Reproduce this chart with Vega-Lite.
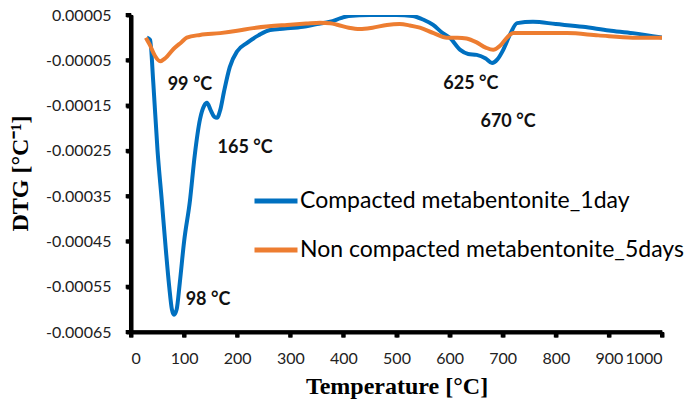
{
  "$schema": "https://vega.github.io/schema/vega-lite/v6.json",
  "width": 531,
  "height": 317,
  "autosize": {"type": "none"},
  "padding": {"left": 131, "top": 15, "right": 24, "bottom": 75},
  "background": "white",
  "config": {
    "view": {"stroke": null},
    "axis": {
      "domain": true, "domainColor": "black", "domainWidth": 4, "domainOpacity": 1,
      "ticks": true, "tickColor": "black", "tickWidth": 4, "tickSize": 5, "tickOpacity": 1,
      "grid": false
    }
  },
  "datasets": {
    "curves": [
      {"T": 30, "V": 0.0, "s": "Compacted metabentonite_1day"},
      {"T": 36, "V": -0.000005, "s": "Compacted metabentonite_1day"},
      {"T": 42, "V": -0.0001, "s": "Compacted metabentonite_1day"},
      {"T": 50, "V": -0.00025, "s": "Compacted metabentonite_1day"},
      {"T": 58, "V": -0.00036, "s": "Compacted metabentonite_1day"},
      {"T": 65, "V": -0.00046, "s": "Compacted metabentonite_1day"},
      {"T": 72, "V": -0.00055, "s": "Compacted metabentonite_1day"},
      {"T": 77, "V": -0.0006, "s": "Compacted metabentonite_1day"},
      {"T": 81, "V": -0.000612, "s": "Compacted metabentonite_1day"},
      {"T": 86, "V": -0.0006, "s": "Compacted metabentonite_1day"},
      {"T": 92, "V": -0.00054, "s": "Compacted metabentonite_1day"},
      {"T": 100, "V": -0.00045, "s": "Compacted metabentonite_1day"},
      {"T": 111, "V": -0.00036, "s": "Compacted metabentonite_1day"},
      {"T": 120, "V": -0.00026, "s": "Compacted metabentonite_1day"},
      {"T": 130, "V": -0.00018, "s": "Compacted metabentonite_1day"},
      {"T": 138, "V": -0.00015, "s": "Compacted metabentonite_1day"},
      {"T": 143, "V": -0.000144, "s": "Compacted metabentonite_1day"},
      {"T": 150, "V": -0.00016, "s": "Compacted metabentonite_1day"},
      {"T": 157, "V": -0.000175, "s": "Compacted metabentonite_1day"},
      {"T": 162, "V": -0.000177, "s": "Compacted metabentonite_1day"},
      {"T": 168, "V": -0.00016, "s": "Compacted metabentonite_1day"},
      {"T": 175, "V": -0.00012, "s": "Compacted metabentonite_1day"},
      {"T": 186, "V": -0.000065, "s": "Compacted metabentonite_1day"},
      {"T": 200, "V": -0.00003, "s": "Compacted metabentonite_1day"},
      {"T": 218, "V": -0.000012, "s": "Compacted metabentonite_1day"},
      {"T": 240, "V": 0.000005, "s": "Compacted metabentonite_1day"},
      {"T": 262, "V": 0.000017, "s": "Compacted metabentonite_1day"},
      {"T": 290, "V": 0.00002, "s": "Compacted metabentonite_1day"},
      {"T": 324, "V": 0.000024, "s": "Compacted metabentonite_1day"},
      {"T": 350, "V": 0.00003, "s": "Compacted metabentonite_1day"},
      {"T": 375, "V": 0.000035, "s": "Compacted metabentonite_1day"},
      {"T": 395, "V": 0.000043, "s": "Compacted metabentonite_1day"},
      {"T": 410, "V": 0.000048, "s": "Compacted metabentonite_1day"},
      {"T": 450, "V": 0.00005, "s": "Compacted metabentonite_1day"},
      {"T": 500, "V": 0.00005, "s": "Compacted metabentonite_1day"},
      {"T": 530, "V": 0.000048, "s": "Compacted metabentonite_1day"},
      {"T": 550, "V": 0.00004, "s": "Compacted metabentonite_1day"},
      {"T": 569, "V": 0.000028, "s": "Compacted metabentonite_1day"},
      {"T": 585, "V": 0.000012, "s": "Compacted metabentonite_1day"},
      {"T": 601, "V": -0.000001, "s": "Compacted metabentonite_1day"},
      {"T": 620, "V": -0.000027, "s": "Compacted metabentonite_1day"},
      {"T": 635, "V": -0.000036, "s": "Compacted metabentonite_1day"},
      {"T": 651, "V": -0.000038, "s": "Compacted metabentonite_1day"},
      {"T": 668, "V": -0.000046, "s": "Compacted metabentonite_1day"},
      {"T": 680, "V": -0.000056, "s": "Compacted metabentonite_1day"},
      {"T": 690, "V": -0.000048, "s": "Compacted metabentonite_1day"},
      {"T": 701, "V": -0.000027, "s": "Compacted metabentonite_1day"},
      {"T": 715, "V": 0.00001, "s": "Compacted metabentonite_1day"},
      {"T": 727, "V": 0.000032, "s": "Compacted metabentonite_1day"},
      {"T": 757, "V": 0.000035, "s": "Compacted metabentonite_1day"},
      {"T": 800, "V": 0.00003, "s": "Compacted metabentonite_1day"},
      {"T": 851, "V": 0.000024, "s": "Compacted metabentonite_1day"},
      {"T": 900, "V": 0.000016, "s": "Compacted metabentonite_1day"},
      {"T": 945, "V": 0.00001, "s": "Compacted metabentonite_1day"},
      {"T": 1000, "V": 0.0, "s": "Compacted metabentonite_1day"},
      {"T": 28, "V": 0.0, "s": "Non compacted metabentonite_5days"},
      {"T": 35, "V": -0.000015, "s": "Non compacted metabentonite_5days"},
      {"T": 45, "V": -0.00004, "s": "Non compacted metabentonite_5days"},
      {"T": 55, "V": -0.000052, "s": "Non compacted metabentonite_5days"},
      {"T": 65, "V": -0.000045, "s": "Non compacted metabentonite_5days"},
      {"T": 80, "V": -0.000025, "s": "Non compacted metabentonite_5days"},
      {"T": 95, "V": -0.00001, "s": "Non compacted metabentonite_5days"},
      {"T": 105, "V": 0.0, "s": "Non compacted metabentonite_5days"},
      {"T": 130, "V": 0.000006, "s": "Non compacted metabentonite_5days"},
      {"T": 168, "V": 0.00001, "s": "Non compacted metabentonite_5days"},
      {"T": 200, "V": 0.000015, "s": "Non compacted metabentonite_5days"},
      {"T": 230, "V": 0.000021, "s": "Non compacted metabentonite_5days"},
      {"T": 260, "V": 0.000025, "s": "Non compacted metabentonite_5days"},
      {"T": 294, "V": 0.000028, "s": "Non compacted metabentonite_5days"},
      {"T": 330, "V": 0.000031, "s": "Non compacted metabentonite_5days"},
      {"T": 356, "V": 0.000033, "s": "Non compacted metabentonite_5days"},
      {"T": 375, "V": 0.000032, "s": "Non compacted metabentonite_5days"},
      {"T": 390, "V": 0.000028, "s": "Non compacted metabentonite_5days"},
      {"T": 410, "V": 0.000022, "s": "Non compacted metabentonite_5days"},
      {"T": 431, "V": 0.000019, "s": "Non compacted metabentonite_5days"},
      {"T": 455, "V": 0.000022, "s": "Non compacted metabentonite_5days"},
      {"T": 482, "V": 0.000028, "s": "Non compacted metabentonite_5days"},
      {"T": 506, "V": 0.00003, "s": "Non compacted metabentonite_5days"},
      {"T": 525, "V": 0.000027, "s": "Non compacted metabentonite_5days"},
      {"T": 544, "V": 0.000022, "s": "Non compacted metabentonite_5days"},
      {"T": 570, "V": 0.00001, "s": "Non compacted metabentonite_5days"},
      {"T": 595, "V": 0.0, "s": "Non compacted metabentonite_5days"},
      {"T": 615, "V": 0.0, "s": "Non compacted metabentonite_5days"},
      {"T": 632, "V": -0.000002, "s": "Non compacted metabentonite_5days"},
      {"T": 650, "V": -0.00001, "s": "Non compacted metabentonite_5days"},
      {"T": 668, "V": -0.000022, "s": "Non compacted metabentonite_5days"},
      {"T": 682, "V": -0.000027, "s": "Non compacted metabentonite_5days"},
      {"T": 695, "V": -0.000018, "s": "Non compacted metabentonite_5days"},
      {"T": 708, "V": 0.0, "s": "Non compacted metabentonite_5days"},
      {"T": 720, "V": 0.00001, "s": "Non compacted metabentonite_5days"},
      {"T": 780, "V": 0.00001, "s": "Non compacted metabentonite_5days"},
      {"T": 821, "V": 0.00001, "s": "Non compacted metabentonite_5days"},
      {"T": 880, "V": 0.000005, "s": "Non compacted metabentonite_5days"},
      {"T": 945, "V": 0.0, "s": "Non compacted metabentonite_5days"},
      {"T": 1000, "V": 0.0, "s": "Non compacted metabentonite_5days"}
    ],
    "notes": [
      {"T": 111, "V": -0.000105, "label": "99 °C"},
      {"T": 215, "V": -0.000244, "label": "165 °C"},
      {"T": 145, "V": -0.000579, "label": "98 °C"},
      {"T": 640, "V": -0.000102, "label": "625 °C"},
      {"T": 710, "V": -0.000186, "label": "670 °C"}
    ],
    "xticks": [
      {"T": 0}, {"T": 100}, {"T": 200}, {"T": 300}, {"T": 400}, {"T": 500},
      {"T": 600}, {"T": 700}, {"T": 800}, {"T": 900}, {"T": 1000}
    ],
    "yticks": [
      {"V": -0.00065}, {"V": -0.00055}, {"V": -0.00045}, {"V": -0.00035},
      {"V": -0.00025}, {"V": -0.00015}, {"V": -0.00005}, {"V": 0.00005}
    ]
  },
  "layer": [
    {
      "data": {"name": "curves"},
      "mark": {"type": "line", "strokeWidth": 4, "interpolate": "monotone", "clip": true},
      "encoding": {
        "x": {
          "field": "T", "type": "quantitative",
          "scale": {"domain": [0, 1000], "nice": false},
          "axis": {
            "values": [0, 100, 200, 300, 400, 500, 600, 700, 800, 900, 1000],
            "format": "d",
            "labelOverlap": false,
            "domain": true,
            "domainColor": "black", "domainWidth": 4,
            "tickColor": "black", "tickWidth": 4, "tickSize": 5,
            "labelFont": "Lato", "labelFontSize": 16, "labelColor": "#222", "labelPadding": 21, "labelBaseline": "middle",
            "title": "Temperature [°C]",
            "titleFont": "Liberation Serif", "titleFontSize": 24, "titleFontWeight": "bold", "titleColor": "black",
            "titleY": 54, "titleBaseline": "middle"
          }
        },
        "y": {
          "field": "V", "type": "quantitative",
          "scale": {"domain": [-0.00065, 0.00005], "nice": false, "zero": false},
          "axis": {
            "values": [-0.00065, -0.00055, -0.00045, -0.00035, -0.00025, -0.00015, -0.00005, 0.00005],
            "labelExpr": "replace(format(datum.value, '.5f'), '−', '-')",
            "labelOverlap": false,
            "domain": true,
            "domainColor": "black", "domainWidth": 4,
            "tickColor": "black", "tickWidth": 4, "tickSize": 5,
            "labelFont": "Lato", "labelFontSize": 16, "labelColor": "#222", "labelPadding": 15,
            "title": "DTG [°C⁻¹]",
            "titleFont": "Liberation Serif", "titleFontSize": 24, "titleFontWeight": "bold", "titleColor": "black",
            "titleX": -111, "titleY": 158, "titleAngle": 270, "titleAlign": "center", "titleBaseline": "middle"
          }
        },
        "color": {
          "field": "s", "type": "nominal",
          "scale": {"domain": ["Compacted metabentonite_1day", "Non compacted metabentonite_5days"], "range": ["#0070C0", "#ED7D31"]},
          "legend": {
            "title": null,
            "orient": "none",
            "legendX": 121,
            "legendY": 162,
            "symbolType": "stroke",
            "symbolStrokeWidth": 5,
            "symbolSize": 1849,
            "labelFont": "Lato",
            "labelFontSize": 23,
            "labelColor": "black",
            "labelOffset": 0,
            "rowPadding": 13,
            "labelLimit": 500
          }
        }
      }
    },
    {
      "data": {"name": "notes"},
      "mark": {"type": "text", "font": "Lato", "fontSize": 18, "fontWeight": "bold", "color": "#111", "align": "center", "baseline": "middle"},
      "encoding": {
        "x": {"field": "T", "type": "quantitative"},
        "y": {"field": "V", "type": "quantitative"},
        "text": {"field": "label"}
      }
    },
    {
      "data": {"values": [{}]},
      "mark": {"type": "rect", "color": "black"},
      "encoding": {
        "x": {"datum": -3.8, "type": "quantitative"},
        "x2": {"datum": 3.8},
        "y": {"datum": -0.000654, "type": "quantitative"},
        "y2": {"datum": 0.00005}
      }
    },
    {
      "data": {"values": [{}]},
      "mark": {"type": "rect", "color": "black"},
      "encoding": {
        "x": {"datum": -3.8, "type": "quantitative"},
        "x2": {"datum": 1000},
        "y": {"datum": -0.000654, "type": "quantitative"},
        "y2": {"datum": -0.000646}
      }
    },
    {
      "data": {"name": "xticks"},
      "mark": {"type": "rect", "color": "black", "width": 4},
      "encoding": {
        "x": {"field": "T", "type": "quantitative"},
        "y": {"datum": -0.00065, "type": "quantitative"},
        "y2": {"datum": -0.000662}
      }
    },
    {
      "data": {"name": "yticks"},
      "mark": {"type": "rect", "color": "black", "height": 4},
      "encoding": {
        "y": {"field": "V", "type": "quantitative"},
        "x": {"datum": -10, "type": "quantitative"},
        "x2": {"datum": 0}
      }
    }
  ]
}
